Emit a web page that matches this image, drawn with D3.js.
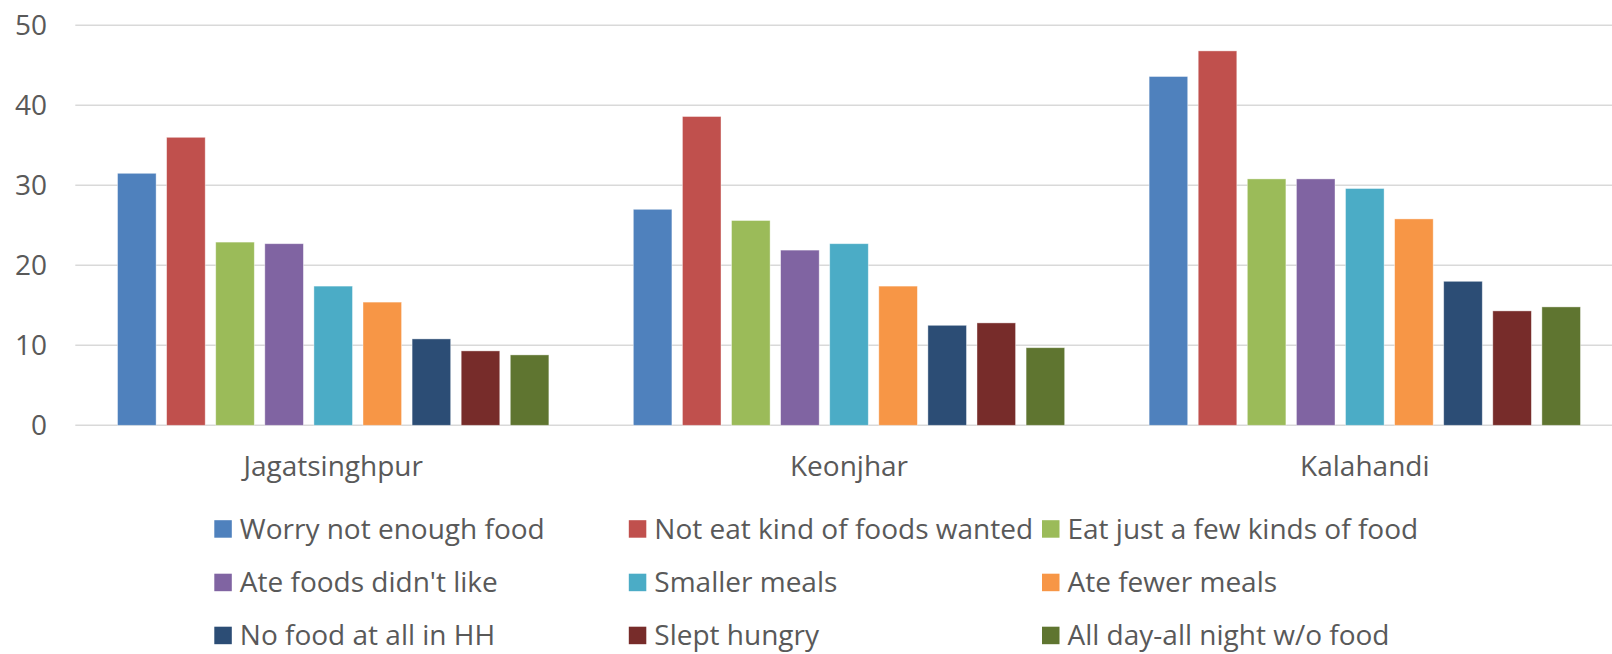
<!DOCTYPE html>
<html>
<head>
<meta charset="utf-8">
<script src="https://cdn.jsdelivr.net/npm/d3@7"></script>
<style>
  html, body { margin: 0; padding: 0; background: #fff; }
  svg text { font-family: "Open Sans", sans-serif; fill: #595959; }
</style>
</head>
<body>
<svg id="chart"></svg>
<script>
// Data
const districts = ["Jagatsinghpur", "Keonjhar", "Kalahandi"];
const series = [
  "Worry not enough food",
  "Not eat kind of foods wanted",
  "Eat just a few kinds of food",
  "Ate foods didn't like",
  "Smaller meals",
  "Ate fewer meals",
  "No food at all in HH",
  "Slept hungry",
  "All day-all night w/o food"
];
// one array per district, in series order
const jagatsinghpur = [31.5, 36.0, 22.9, 22.7, 17.4, 15.4, 10.8, 9.3, 8.8];
const keonjhar      = [27.0, 38.6, 25.6, 21.9, 22.7, 17.4, 12.5, 12.8, 9.7];
const kalahandi     = [43.6, 46.8, 30.8, 30.8, 29.6, 25.8, 18.0, 14.3, 14.8];
const yTicks = [0, 10, 20, 30, 40, 50];

const colors = ["#4F81BD", "#C0504D", "#9BBB59", "#8064A2", "#4BACC6",
                "#F79646", "#2C4D75", "#772C2A", "#5F7530"];

const values = [jagatsinghpur, keonjhar, kalahandi];

const width = 1612, height = 654;
const plot = { left: 75.3, right: 1622.7, top: 25.3, bottom: 425.3 };
const fontSize = 28;

const svg = d3.select("#chart")
    .attr("width", width)
    .attr("height", height);

// Scales
const x0 = d3.scaleBand()
    .domain(districts)
    .range([plot.left, plot.right])
    .padding(0);

const x1 = d3.scaleBand()
    .domain(series)
    .range([0, x0.bandwidth()])
    .paddingInner(0.214)
    .paddingOuter(0.86);

const y = d3.scaleLinear()
    .domain([0, 50])
    .range([plot.bottom, plot.top]);

const color = d3.scaleOrdinal().domain(series).range(colors);

// Gridlines
svg.append("g")
    .selectAll("line")
    .data(yTicks)
    .join("line")
    .attr("x1", plot.left)
    .attr("x2", width)
    .attr("y1", d => y(d))
    .attr("y2", d => y(d))
    .attr("stroke", "#D9D9D9")
    .attr("stroke-width", 1.5);

// Y axis labels
svg.append("g")
    .selectAll("text")
    .data(yTicks)
    .join("text")
    .attr("x", 47)
    .attr("y", d => y(d))
    .attr("dy", "0.35em")
    .attr("text-anchor", "end")
    .attr("font-size", fontSize)
    .text(d => d);

// Bars
const groups = svg.append("g")
    .selectAll("g")
    .data(districts)
    .join("g")
    .attr("transform", d => `translate(${x0(d)},0)`);

groups.selectAll("rect")
    .data((d, i) => series.map((s, j) => ({ s, v: values[i][j] })))
    .join("rect")
    .attr("x", d => x1(d.s))
    .attr("width", x1.bandwidth())
    .attr("y", d => y(d.v))
    .attr("height", d => y(0) - y(d.v))
    .attr("fill", d => color(d.s))
    .attr("stroke", "#fff")
    .attr("stroke-opacity", 0.5)
    .attr("stroke-width", 0.8);

// Category labels
svg.append("g")
    .selectAll("text")
    .data(districts)
    .join("text")
    .attr("x", d => x0(d) + x0.bandwidth() / 2)
    .attr("y", 466)
    .attr("dy", "0.35em")
    .attr("text-anchor", "middle")
    .attr("font-size", fontSize)
    .text(d => d);

// Legend (3 columns x 3 rows)
const legendX = [214.3, 628.8, 1042];
const legendY = [529, 582.5, 635.5];
const legend = svg.append("g")
    .selectAll("g")
    .data(series)
    .join("g")
    .attr("transform", (d, i) => `translate(${legendX[i % 3]},${legendY[Math.floor(i / 3)]})`);

legend.append("rect")
    .attr("x", 0)
    .attr("y", -8.8)
    .attr("width", 17.5)
    .attr("height", 17.5)
    .attr("fill", d => color(d));

legend.append("text")
    .attr("x", 25.5)
    .attr("y", 0)
    .attr("dy", "0.35em")
    .attr("font-size", fontSize)
    .text(d => d);
</script>
</body>
</html>
